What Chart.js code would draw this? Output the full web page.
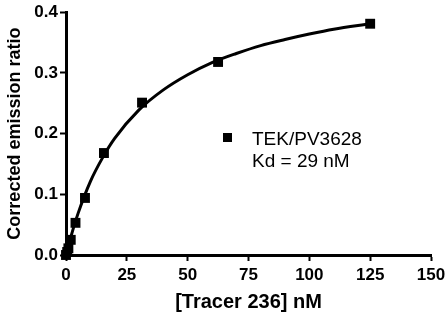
<!DOCTYPE html>
<html>
<head>
<meta charset="utf-8">
<script src="https://cdn.jsdelivr.net/npm/chart.js@4"></script>
<style>
  html, body { margin: 0; padding: 0; background: #fff; }
  #wrap { width: 446px; height: 317px; }
</style>
</head>
<body>
<div id="wrap"><canvas id="chart"></canvas></div>
<script>
// measured points
const tracerNM = [0, 0.49, 0.98, 1.95, 3.9, 7.8, 15.6, 31.25, 62.5, 125];
const emissionRatio = [0.0, 0.005, 0.011, 0.025, 0.053, 0.094, 0.168, 0.251, 0.318, 0.381];

// fitted curve
const fitX = [0, 2, 5, 10, 15, 20, 30, 40, 50, 60, 70, 80, 90, 100, 110, 125];
const fitY = [0, 0.030, 0.069, 0.121, 0.160, 0.192, 0.239, 0.272, 0.297, 0.317, 0.332, 0.345, 0.355, 0.364, 0.372, 0.381];

const xTicks = [0, 25, 50, 75, 100, 125, 150];
const yTicks = [0, 0.1, 0.2, 0.3, 0.4];
const legendLines = ['TEK/PV3628', 'Kd = 29 nM'];

const fam = '"Liberation Sans", Arial, sans-serif';
const tickFont = { family: fam, size: 17, weight: 'bold' };

const legendPlugin = {
  id: 'legendText',
  afterDraw(chart) {
    const ctx = chart.ctx;
    ctx.save();
    ctx.fillStyle = '#000';
    ctx.fillRect(223, 133, 9, 9);
    ctx.font = '19px ' + fam;
    ctx.textBaseline = 'alphabetic';
    ctx.fillText(legendLines[0], 252, 145);
    ctx.fillText(legendLines[1], 252, 167);
    ctx.restore();
  }
};

new Chart(document.getElementById('chart'), {
  type: 'scatter',
  data: {
    datasets: [
      {
        label: 'fit',
        data: fitX.map((x, i) => ({ x: x, y: fitY[i] })),
        showLine: true,
        borderColor: '#000',
        borderWidth: 3,
        pointRadius: 0,
        cubicInterpolationMode: 'monotone',
        clip: false
      },
      {
        label: 'TEK/PV3628',
        data: tracerNM.map((x, i) => ({ x: x, y: emissionRatio[i] })),
        showLine: false,
        pointStyle: 'rect',
        pointRadius: 7,
        backgroundColor: '#000',
        borderColor: '#000',
        borderWidth: 0,
        clip: false
      }
    ]
  },
  options: {
    responsive: true,
    maintainAspectRatio: false,
    animation: false,
    layout: { padding: { top: 11, right: 15, left: 0, bottom: 0 } },
    plugins: { legend: { display: false }, tooltip: { enabled: false } },
    scales: {
      x: {
        type: 'linear',
        min: 0,
        max: 150,
        afterBuildTicks: (s) => { s.ticks = xTicks.map(v => ({ value: v })); },
        afterFit: (s) => { s.height = 62; s.paddingRight = 0; s.paddingLeft = 0; },
        border: { color: '#000', width: 3 },
        grid: { drawOnChartArea: false, drawTicks: true, tickLength: 6, tickWidth: 2, tickColor: '#000' },
        ticks: { color: '#000', font: tickFont, padding: 4, maxRotation: 0 },
        title: {
          display: true,
          text: '[Tracer 236] nM',
          color: '#000',
          font: { family: fam, size: 20, weight: 'bold' },
          padding: { top: 0, bottom: 3 }
        }
      },
      y: {
        type: 'linear',
        min: 0,
        max: 0.4,
        afterBuildTicks: (s) => { s.ticks = yTicks.map(v => ({ value: v })); },
        afterFit: (s) => { s.width = 66; },
        border: { color: '#000', width: 3 },
        grid: { drawOnChartArea: false, drawTicks: true, tickLength: 6, tickWidth: 2, tickColor: '#000' },
        ticks: { color: '#000', font: tickFont, padding: 2, callback: (v) => Number(v).toFixed(1) },
        title: {
          display: true,
          text: 'Corrected emission ratio',
          color: '#000',
          font: { family: fam, size: 18, weight: 'bold' },
          padding: { top: 4, bottom: 0 }
        }
      }
    }
  },
  plugins: [legendPlugin]
});
</script>
</body>
</html>
